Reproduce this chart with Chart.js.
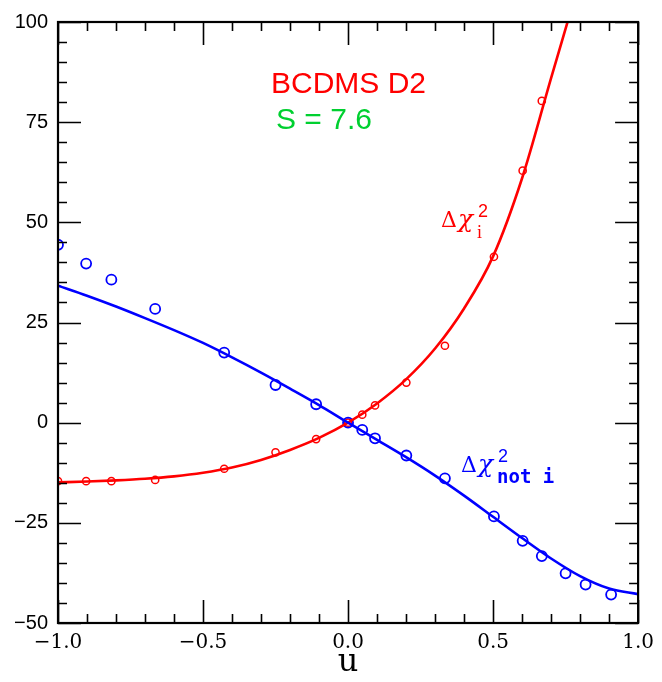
<!DOCTYPE html>
<html>
<head>
<meta charset="utf-8">
<script src="https://cdn.jsdelivr.net/npm/chart.js@4/dist/chart.umd.min.js"></script>
<style>
  html, body { margin: 0; padding: 0; background: #fff; }
  #wrap { width: 662px; height: 682px; }
</style>
</head>
<body>
<div id="wrap"><canvas id="chart" width="662" height="682"></canvas></div>
<script>
// -------- Data --------
const uPoints = [-1.0, -0.903, -0.816, -0.665, -0.427, -0.25, -0.110, 0.0, 0.049, 0.093, 0.201, 0.334, 0.503, 0.602, 0.668, 0.75, 0.819, 0.907];
const chiNotIPoints = [44.4, 39.7, 35.7, 28.4, 17.5, 9.4, 4.6, 0.0, -1.8, -3.9, -8.2, -13.9, -23.4, -29.5, -33.3, -37.6, -40.4, -42.9];
const chiIPoints = [-14.6, -14.6, -14.6, -14.3, -11.5, -7.4, -4.1, 0.0, 2.0, 4.3, 10.0, 19.2, 41.4, 62.9, 80.3];

const uCurve = [-1.0, -0.9, -0.8, -0.7, -0.6, -0.5, -0.4, -0.3, -0.2, -0.1, 0.0, 0.1, 0.2, 0.3, 0.4, 0.5, 0.6, 0.7, 0.8, 0.9, 1.0];
const chiNotICurve = [34.2, 31.7, 29.0, 26.1, 23.1, 19.9, 16.3, 12.5, 8.5, 4.4, 0.0, -4.3, -8.6, -13.2, -18.2, -23.5, -28.8, -33.9, -38.3, -41.4, -42.8];
const uCurveI = [-1.0, -0.9, -0.8, -0.7, -0.6, -0.5, -0.4, -0.3, -0.2, -0.1, 0.0, 0.1, 0.2, 0.3, 0.4, 0.5, 0.6, 0.7, 0.76];
const chiICurve = [-14.9, -14.7, -14.4, -14.0, -13.4, -12.5, -11.2, -9.3, -6.8, -3.8, 0.0, 4.8, 10.8, 18.5, 28.5, 41.5, 61.0, 86.0, 100.8];

const xRange = [-1, 1];
const yRange = [-50, 100];
const xMajor = 0.5, xMinor = 0.1;
const yMajor = 25, yMinor = 5;

const RED = '#ff0000', BLUE = '#0000ff', GREEN = '#00d030';

const pts = (xs, ys) => ys.map((v, i) => ({ x: xs[i], y: v }));
const minus = s => String(s).replace('-', '\u2212');

// Δχ² with sub/superscript
function drawChi(ctx, x, base, color, sub, subFont) {
    ctx.fillStyle = color;
    ctx.font = '22px "DejaVu Serif"';
    ctx.fillText('\u0394', x, base);
    ctx.font = 'italic 25px "DejaVu Serif"';
    ctx.fillText('\u03c7', x + 17, base);
    ctx.font = '18px "Liberation Sans"';
    ctx.fillText('2', x + 37, base - 10);
    ctx.font = subFont;
    ctx.fillText(sub, x + 36, base + 11);
}

// -------- Frame, inside ticks, labels --------
const framePlugin = {
    id: 'frame',
    afterDraw(chart) {
        const { ctx, chartArea: a, scales: { x, y } } = chart;
        ctx.save();
        ctx.strokeStyle = '#000';
        ctx.lineWidth = 1.6;
        ctx.beginPath();
        // x ticks (bottom and top)
        for (let k = 0; k <= Math.round((xRange[1] - xRange[0]) / xMinor); k++) {
            const v = xRange[0] + k * xMinor;
            const px = Math.round(x.getPixelForValue(v)) + 0.5;
            const major = Math.abs(v / xMajor - Math.round(v / xMajor)) < 1e-6;
            const len = major ? 23 : 9;
            ctx.moveTo(px, a.bottom); ctx.lineTo(px, a.bottom - len);
            ctx.moveTo(px, a.top); ctx.lineTo(px, a.top + len);
        }
        // y ticks (left and right)
        for (let k = 0; k <= Math.round((yRange[1] - yRange[0]) / yMinor); k++) {
            const v = yRange[0] + k * yMinor;
            const py = Math.round(y.getPixelForValue(v)) + 0.5;
            const major = v % yMajor === 0;
            const len = major ? 23 : 9;
            ctx.moveTo(a.left, py); ctx.lineTo(a.left + len, py);
            ctx.moveTo(a.right, py); ctx.lineTo(a.right - len, py);
        }
        ctx.stroke();
        ctx.lineWidth = 2.2;
        ctx.strokeRect(a.left, a.top, a.right - a.left, a.bottom - a.top);

        // axis title
        ctx.fillStyle = '#000';
        ctx.textAlign = 'center';
        ctx.textBaseline = 'alphabetic';
        ctx.font = '32px "DejaVu Serif"';
        ctx.fillText('u', (a.left + a.right) / 2, 671);

        // labels
        ctx.textAlign = 'left';
        ctx.fillStyle = RED;
        ctx.font = '30px "Liberation Sans"';
        ctx.fillText('BCDMS D2', 271, 93);
        ctx.fillStyle = GREEN;
        ctx.fillText('S = 7.6', 276, 129);

        drawChi(ctx, 441, 227, RED, 'i', '18px "Liberation Serif"');
        drawChi(ctx, 461, 472, BLUE, 'not i', 'bold 19px "DejaVu Sans Mono"');
        ctx.restore();
    }
};

// -------- Chart --------
const ctx = document.getElementById('chart').getContext('2d');
new Chart(ctx, {
    type: 'scatter',
    data: {
        datasets: [
            {
                label: 'chi2 not i fit',
                data: pts(uCurve, chiNotICurve),
                showLine: true,
                borderColor: BLUE,
                borderWidth: 2.6,
                pointRadius: 0,
                cubicInterpolationMode: 'monotone'
            },
            {
                label: 'chi2 i fit',
                data: pts(uCurveI, chiICurve),
                showLine: true,
                borderColor: RED,
                borderWidth: 2.6,
                pointRadius: 0,
                cubicInterpolationMode: 'monotone'
            },
            {
                label: 'chi2 not i',
                data: pts(uPoints, chiNotIPoints),
                showLine: false,
                pointStyle: 'circle',
                pointRadius: 5,
                pointBorderWidth: 1.8,
                pointBorderColor: BLUE,
                pointBackgroundColor: 'rgba(0,0,0,0)'
            },
            {
                label: 'chi2 i',
                data: pts(uPoints, chiIPoints),
                showLine: false,
                pointStyle: 'circle',
                pointRadius: 3.6,
                pointBorderWidth: 1.5,
                pointBorderColor: RED,
                pointBackgroundColor: 'rgba(0,0,0,0)'
            }
        ]
    },
    options: {
        responsive: false,
        animation: false,
        layout: { padding: { top: 20, right: 19, left: 0, bottom: 0 } },
        plugins: { legend: { display: false }, tooltip: { enabled: false } },
        scales: {
            x: {
                type: 'linear',
                min: xRange[0], max: xRange[1],
                grid: { display: false, drawTicks: false },
                border: { display: false },
                afterFit: s => { s.height = 59; },
                ticks: {
                    stepSize: xMajor,
                    padding: 8,
                    color: '#000',
                    font: { family: 'DejaVu Serif', size: 20 },
                    maxRotation: 0,
                    callback: v => minus(Number(v).toFixed(1))
                }
            },
            y: {
                type: 'linear',
                min: yRange[0], max: yRange[1],
                grid: { display: false, drawTicks: false },
                border: { display: false },
                afterFit: s => { s.width = 58; },
                ticks: {
                    stepSize: yMajor,
                    padding: 10,
                    color: '#000',
                    font: { family: 'Liberation Sans', size: 20 },
                    callback: v => minus(v)
                }
            }
        }
    },
    plugins: [framePlugin]
});
</script>
</body>
</html>
